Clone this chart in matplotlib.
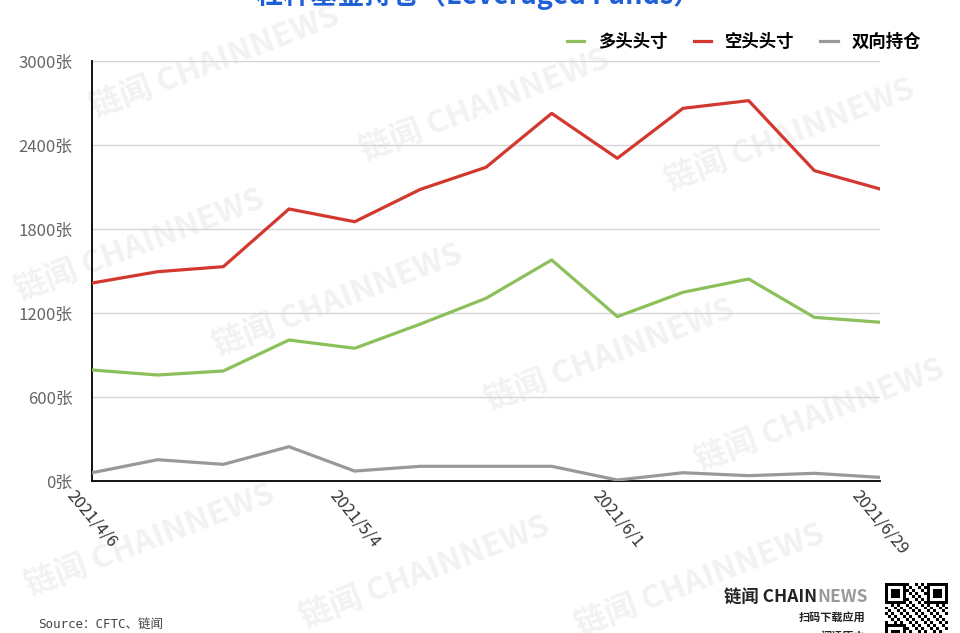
import matplotlib
matplotlib.use("Agg")
import matplotlib.pyplot as plt
import numpy as np

plt.rcParams['font.family'] = ['Noto Sans CJK SC', 'DejaVu Sans']

# weekly CFTC reports, 2021/4/6 .. 2021/6/29
dates = ['2021/4/6', '2021/4/13', '2021/4/20', '2021/4/27', '2021/5/4',
         '2021/5/11', '2021/5/18', '2021/5/25', '2021/6/1', '2021/6/8',
         '2021/6/15', '2021/6/22', '2021/6/29']
long_pos = [793, 757, 786, 1007, 948, 1121, 1305, 1579, 1174, 1348, 1443, 1169, 1134]
short_pos = [1414, 1495, 1531, 1943, 1852, 2083, 2241, 2626, 2305, 2662, 2717, 2217, 2086]
spread_pos = [59, 152, 119, 245, 71, 105, 105, 105, 7, 59, 38, 55, 26]
series_names = ['多头头寸', '空头头寸', '双向持仓']
yticks = [0, 600, 1200, 1800, 2400, 3000]
shown_dates = ['2021/4/6', '2021/5/4', '2021/6/1', '2021/6/29']

W, H = 960, 633
fig = plt.figure(figsize=(W / 100, H / 100), dpi=100)
ax = fig.add_axes([92 / W, 1 - 481 / H, (880 - 92) / W, 420 / H])

# faint watermarks
wm = [(215, 62), (485, 105), (790, 135), (140, 245), (338, 300), (610, 355),
      (820, 415), (150, 540), (425, 572), (700, 580)]
for x, y in wm:
    fig.text(x / W, 1 - y / H, '链闻 CHAINNEWS', fontsize=23, color='#f2f2f2',
             rotation=21, ha='center', va='center', fontweight='bold', zorder=-5)

x = np.arange(len(dates))
ax.plot(x, long_pos, color='#8cc05b', lw=2.3, label=series_names[0], zorder=3)
ax.plot(x, short_pos, color='#d3382e', lw=2.3, label=series_names[1], zorder=3)
ax.plot(x, spread_pos, color='#999999', lw=2.3, label=series_names[2], zorder=3)

ax.set_xlim(0, len(dates) - 1)
ax.set_ylim(0, 3000)
ax.set_yticks(yticks)
ax.set_yticklabels(['%d张' % v for v in yticks], fontsize=12, color='#666666')
ax.set_xticks([dates.index(d) for d in shown_dates])
ax.set_xticklabels(shown_dates, rotation=-50, ha='center', va='top',
                   fontsize=12, color='#333333')
ax.tick_params(axis='y', length=0, pad=14)
ax.tick_params(axis='x', length=0, pad=4)
ax.grid(axis='y', color='#d6d6d6', lw=1)
ax.set_axisbelow(True)
ax.patch.set_alpha(0)
for s in ['top', 'right']:
    ax.spines[s].set_visible(False)
ax.spines['left'].set_color('black')
ax.spines['bottom'].set_color('black')
ax.spines['left'].set_linewidth(1.3)
ax.spines['bottom'].set_linewidth(1.3)

leg = ax.legend(loc='lower right', bbox_to_anchor=(1.072, 0.986), ncol=3, frameon=False,
                handlelength=1.0, handletextpad=0.8, columnspacing=1.5,
                prop={'size': 12.5, 'weight': 'bold'})

fig.text(478 / W, 1 - 4 / H, '杠杆基金持仓（Leveraged Funds）', fontsize=19.5,
         fontweight='bold', color='#1f5fd8', ha='center', va='baseline')

fig.text(38 / W, 1 - 625 / H, 'Source：CFTC、链闻', fontsize=9, color='#444444',
         ha='left', va='center', family=['DejaVu Sans Mono', 'Noto Sans CJK SC'])
fig.text(817 / W, 1 - 597 / H, '链闻 CHAIN', fontsize=12.5, fontweight='bold',
         color='#222222', ha='right', va='center')
fig.text(817 / W, 1 - 597 / H, 'NEWS', fontsize=12.5, fontweight='bold',
         color='#9a9a9a', ha='left', va='center')
fig.text(865 / W, 1 - 617 / H, '扫码下载应用', fontsize=8, fontweight='bold',
         color='#222222', ha='right', va='center')
fig.text(865 / W, 1 - 636 / H, '阅读原文', fontsize=8, fontweight='bold',
         color='#222222', ha='right', va='center')

# QR code placeholder
qa = fig.add_axes([885 / W, 0, 63 / W, 50 / H])
n = 21
grid = ((np.arange(n)[:, None] * 7 + np.arange(n)[None, :] * 3) % 5 < 2).astype(float)
for r0, c0 in [(0, 0), (0, n - 7), (n - 7, 0)]:
    grid[r0:r0 + 7, c0:c0 + 7] = 1
    grid[r0 + 1:r0 + 6, c0 + 1:c0 + 6] = 0
    grid[r0 + 2:r0 + 5, c0 + 2:c0 + 5] = 1
qa.imshow(grid[:17], cmap='Greys', aspect='auto', interpolation='nearest')
qa.axis('off')

fig.savefig('out.png', dpi=100)
